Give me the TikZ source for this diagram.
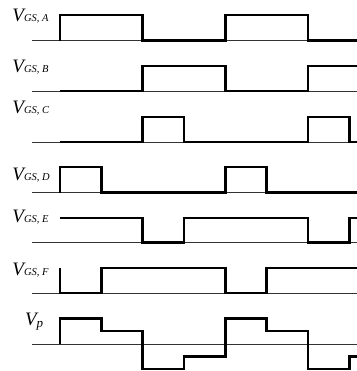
\documentclass[tikz,border=0pt]{standalone}
\usepackage{fontspec}
\setmainfont{Liberation Serif}
\usepackage{tikz}
\newcommand{\gsname}[1]{{\fontsize{19}{19}\selectfont\itshape V}{\fontsize{10.5}{10.5}\selectfont\itshape GS, #1}}

\begin{document}
\begin{tikzpicture}[x=1pt,y=-1pt,
  rail/.style={line width=0.8pt,draw=black!80},
  wave/.style={line width=2.8pt,draw=black},
  lbl/.style={anchor=base west,inner sep=0pt,outer sep=0pt}]
\useasboundingbox (0,0) rectangle (356,371);
% zero lines
\draw[rail] (32,40.7) -- (358,40.7);
\draw[rail] (32,91) -- (358,91);
\draw[rail] (32,142) -- (358,142);
\draw[rail] (32,192.5) -- (358,192.5);
\draw[rail] (32,242.5) -- (358,242.5);
\draw[rail] (32,293) -- (358,293);
\draw[rail] (32,344) -- (358,344);
% labels
\node[lbl] (labA) at (12.5,22) {\gsname{A}};
\node[lbl] (labB) at (12.5,73) {\gsname{B}};
\node[lbl] (labC) at (12.5,113.5) {\gsname{C}};
\node[lbl] (labD) at (12.5,180) {\gsname{D}};
\node[lbl] (labE) at (12.5,222) {\gsname{E}};
\node[lbl] (labF) at (12.5,275) {\gsname{F}};
\node[lbl] (labP) at (25,325) {{\fontsize{19}{19}\selectfont\itshape V}\raisebox{-2pt}{\fontsize{13}{13}\selectfont\itshape p}};
% gate signals
\draw[wave] (60,40.7) -- (60,15) -- (142.6,15) -- (142.6,40.7) -- (225.3,40.7)
  -- (225.3,15) -- (308,15) -- (308,40.7) -- (358,40.7);
\draw[wave] (60,91) -- (142.6,91) -- (142.6,66) -- (225.3,66) -- (225.3,91)
  -- (308,91) -- (308,66) -- (358,66);
\draw[wave] (60,142) -- (142.6,142) -- (142.6,117) -- (184,117) -- (184,142)
  -- (308,142) -- (308,117) -- (349.3,117) -- (349.3,142) -- (358,142);
\draw[wave] (60,192.5) -- (60,167) -- (101.3,167) -- (101.3,192.5) -- (225.3,192.5)
  -- (225.3,167) -- (266.6,167) -- (266.6,192.5) -- (358,192.5);
\draw[wave] (60,218) -- (142.6,218) -- (142.6,242.5) -- (184,242.5) -- (184,218)
  -- (308,218) -- (308,242.5) -- (349.3,242.5) -- (349.3,218) -- (358,218);
\draw[wave] (60,268) -- (60,293) -- (101.3,293) -- (101.3,268) -- (225.3,268)
  -- (225.3,293) -- (266.6,293) -- (266.6,268) -- (358,268);
% output voltage
\draw[wave] (60,344) -- (60,318.5) -- (101.3,318.5) -- (101.3,331) -- (142.6,331)
  -- (142.6,369) -- (184,369) -- (184,356.5) -- (225.3,356.5) -- (225.3,318.5)
  -- (266.6,318.5) -- (266.6,331) -- (308,331) -- (308,369) -- (349.3,369)
  -- (349.3,356.5) -- (358,356.5);
\end{tikzpicture}
\end{document}
